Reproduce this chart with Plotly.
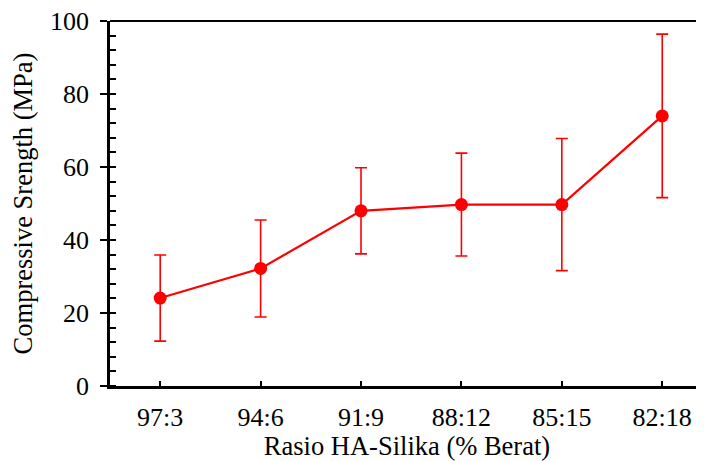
import plotly.graph_objects as go

categories = ["97:3", "94:6", "91:9", "88:12", "85:15", "82:18"]
strength = [24.1, 32.2, 48.0, 49.7, 49.7, 74.0]
error = [11.8, 13.3, 11.8, 14.1, 18.1, 22.4]

x_pos = list(range(len(categories)))

fig = go.Figure()
fig.add_trace(go.Scatter(
    x=x_pos, y=strength,
    mode="lines+markers",
    line=dict(color="#ff0000", width=2.2),
    marker=dict(color="#ff0000", size=13),
    error_y=dict(type="data", array=error, visible=True,
                 color="#ff0000", thickness=1.6, width=6),
    showlegend=False,
))

serif = "Liberation Serif"
tickfont = dict(family=serif, size=26, color="black")
titlefont = dict(family=serif, size=26.5, color="black")

# page body has an 8px default margin, so the figure is offset by 8px
fig.update_layout(
    width=696, height=453,
    margin=dict(l=102, r=0, t=13, b=75, autoexpand=False),
    paper_bgcolor="white", plot_bgcolor="white",
    font=dict(family=serif, size=26, color="black"),
    xaxis=dict(
        range=[-0.5, 5.416],
        tickmode="array", tickvals=x_pos, ticktext=categories,
        ticks="inside", ticklen=5, tickwidth=2, tickcolor="black",
        ticklabelstandoff=6, ticklabeloverflow="allow",
        tickfont=tickfont,
        showline=True, linecolor="black", linewidth=2.5,
        showgrid=False, zeroline=False, automargin=False,
        title=dict(text="Rasio HA-Silika (% Berat)", font=titlefont, standoff=8),
    ),
    yaxis=dict(
        range=[0, 100], dtick=20,
        ticks="outside", ticklen=7, tickwidth=2, tickcolor="black",
        ticklabelstandoff=6, ticklabeloverflow="allow",
        tickfont=tickfont,
        minor=dict(dtick=4, ticks="inside", ticklen=6, tickwidth=2, tickcolor="black"),
        showline=True, linecolor="black", linewidth=2.5,
        showgrid=False, zeroline=False, automargin=False,
        title=dict(text="Compressive Srength (MPa)", font=titlefont, standoff=12),
    ),
    yaxis2=dict(
        range=[0, 100], dtick=20, overlaying="y", side="left",
        ticks="inside", ticklen=6, tickwidth=2, tickcolor="black",
        showticklabels=False, showline=False, showgrid=False, zeroline=False,
        automargin=False,
    ),
)
fig.add_shape(type="line", xref="paper", yref="paper", x0=0, x1=1, y0=1, y1=1,
              line=dict(color="black", width=2))

fig.write_html("out.html")
